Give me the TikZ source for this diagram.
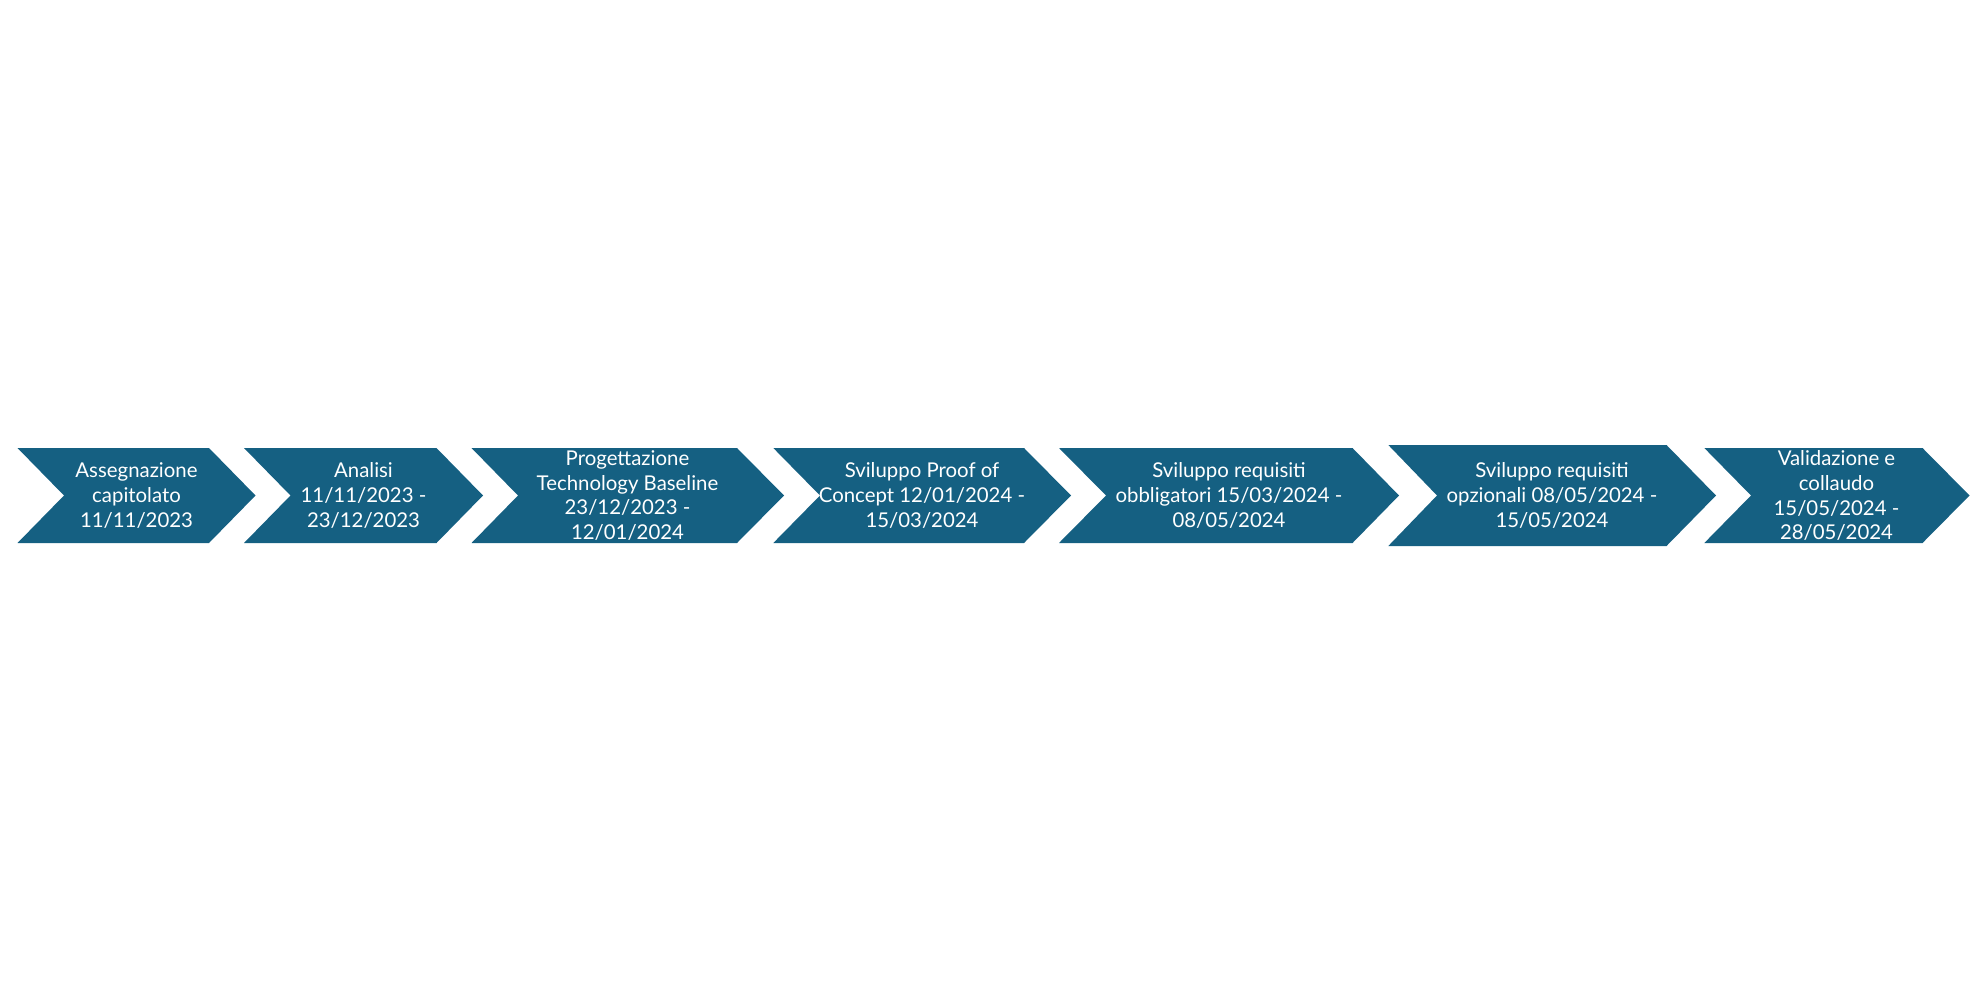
\documentclass[tikz,border=0pt]{standalone}
\usepackage{fontspec}
\setmainfont{Lato}
\definecolor{accent}{HTML}{156082}
\newcommand{\chevtext}{\fontsize{11.6}{14.2}\selectfont}
\tikzset{
  chev/.style={fill=accent, draw=none},
  lab/.style={text=white, font=\chevtext, align=center, inner sep=0pt}
}
\begin{document}
\begin{tikzpicture}[x=0.02cm, y=-0.02cm]
\useasboundingbox[fill=white] (0,0) rectangle (1981,990);
% chevron 1
\fill[chev] (17.5,448) -- (209,448) -- (255.5,495.5) -- (209,543) -- (17.5,543) -- (64,495.5) -- cycle;
\node[lab] (c1) at (136.5,495.5) {Assegnazione\\capitolato\\11/11/2023};
% chevron 2
\fill[chev] (244,448) -- (436.5,448) -- (483,495.5) -- (436.5,543) -- (244,543) -- (290.5,495.5) -- cycle;
\node[lab] (c2) at (363.5,495.5) {Analisi\\11/11/2023 -\\23/12/2023};
% chevron 3
\fill[chev] (471.5,448) -- (737,448) -- (784,495.5) -- (737,543) -- (471.5,543) -- (518,495.5) -- cycle;
\node[lab] (c3) at (627.5,495.5) {Progettazione\\Technology Baseline\\23/12/2023 -\\12/01/2024};
% chevron 4
\fill[chev] (773.3,448) -- (1024,448) -- (1071,495.5) -- (1024,543) -- (773.3,543) -- (820,495.5) -- cycle;
\node[lab] (c4) at (922,495.5) {Sviluppo Proof of\\Concept 12/01/2024 -\\15/03/2024};
% chevron 5
\fill[chev] (1059,448) -- (1352.5,448) -- (1399,495.5) -- (1352.5,543) -- (1059,543) -- (1106,495.5) -- cycle;
\node[lab] (c5) at (1229,495.5) {Sviluppo requisiti\\obbligatori 15/03/2024 -\\08/05/2024};
% chevron 6
\fill[chev] (1388.3,445) -- (1666.5,445) -- (1716,495.5) -- (1666.5,546) -- (1388.3,546) -- (1437,495.5) -- cycle;
\node[lab] (c6) at (1552,495.5) {Sviluppo requisiti\\opzionali 08/05/2024 -\\15/05/2024};
% chevron 7
\fill[chev] (1704.3,448) -- (1922.5,448) -- (1969.5,495.5) -- (1922.5,543) -- (1704.3,543) -- (1751,495.5) -- cycle;
\node[lab] (c7) at (1836.5,495.5) {Validazione e\\collaudo\\15/05/2024 -\\28/05/2024};
\end{tikzpicture}
\end{document}
